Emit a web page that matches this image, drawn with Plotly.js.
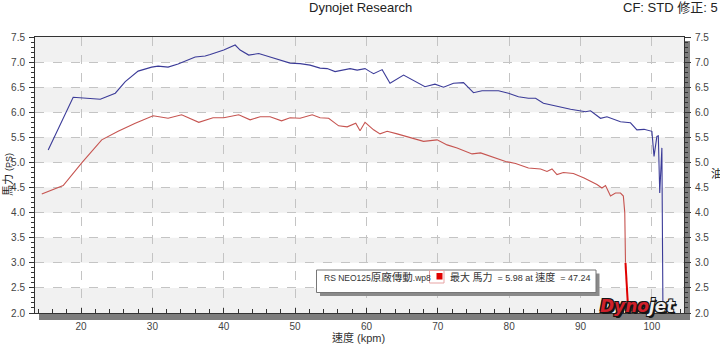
<!DOCTYPE html>
<html><head><meta charset="utf-8">
<script src="https://cdn.plot.ly/plotly-3.0.1.min.js"></script>
<style>html,body{margin:0;padding:0;background:#fff}#chart{width:720px;height:357px}</style>
</head><body><div id="chart"></div>
<script>
// ---- data ----
const speedBlue = [15.4, 18.9, 22.7, 24.8, 26.2, 28.0, 29.9, 30.8, 32.2, 33.6, 36.0, 37.4, 38.1, 40.0, 41.6, 42.3, 43.5, 44.9, 46.5, 47.9, 49.3, 50.7, 52.1, 53.5, 54.5, 55.6, 57.7, 58.7, 59.8, 60.5, 61.0, 62.2, 63.3, 65.2, 67.3, 68.2, 69.6, 70.8, 72.2, 73.6, 75.0, 76.2, 78.5, 79.9, 81.3, 82.7, 83.7, 84.8, 86.7, 88.6, 90.7, 91.4, 92.8, 93.7, 95.6, 97.0, 97.9, 98.9, 100.0, 100.3, 100.7, 100.9, 101.1, 101.4, 101.55];
const powerBlue = [5.25, 6.30, 6.26, 6.38, 6.61, 6.82, 6.90, 6.92, 6.90, 6.96, 7.10, 7.12, 7.15, 7.24, 7.34, 7.24, 7.14, 7.17, 7.10, 7.04, 6.98, 6.97, 6.94, 6.88, 6.87, 6.81, 6.87, 6.84, 6.87, 6.81, 6.77, 6.85, 6.58, 6.74, 6.59, 6.51, 6.56, 6.50, 6.58, 6.59, 6.39, 6.43, 6.43, 6.38, 6.31, 6.28, 6.28, 6.18, 6.12, 6.06, 6.01, 6.03, 5.88, 5.91, 5.81, 5.79, 5.65, 5.66, 5.62, 5.12, 5.52, 5.53, 4.39, 5.29, 2.0];
const speedRed = [14.5, 17.5, 20.1, 22.9, 25.2, 27.6, 30.1, 32.2, 34.1, 36.5, 38.5, 40.0, 42.1, 43.7, 45.1, 46.5, 48.1, 49.3, 50.7, 52.4, 53.5, 54.7, 56.1, 57.3, 58.5, 59.1, 59.8, 61.0, 61.9, 62.9, 64.3, 65.9, 68.0, 69.9, 71.3, 72.7, 74.8, 76.0, 77.6, 79.5, 80.9, 82.7, 84.4, 85.3, 86.0, 86.7, 87.6, 89.0, 90.5, 91.6, 92.3, 93.0, 93.5, 94.2, 94.9, 95.6, 96.0, 96.2, 96.3];
const powerRed = [4.37, 4.54, 4.99, 5.45, 5.62, 5.78, 5.93, 5.88, 5.95, 5.80, 5.89, 5.89, 5.95, 5.85, 5.91, 5.91, 5.83, 5.89, 5.88, 5.95, 5.89, 5.88, 5.73, 5.71, 5.78, 5.63, 5.80, 5.65, 5.57, 5.62, 5.57, 5.50, 5.42, 5.45, 5.35, 5.29, 5.17, 5.19, 5.11, 5.02, 4.98, 4.89, 4.87, 4.82, 4.87, 4.76, 4.80, 4.78, 4.69, 4.62, 4.56, 4.49, 4.54, 4.33, 4.39, 4.39, 4.33, 4.00, 3.00];
const speedRedDrop = [96.3, 96.45, 96.4, 96.55, 96.5, 96.7];
const powerRedDrop = [3.00, 2.65, 2.85, 2.30, 2.50, 2.00];
const yTicks = [2.0, 2.5, 3.0, 3.5, 4.0, 4.5, 5.0, 5.5, 6.0, 6.5, 7.0, 7.5];
const xTicks = [20, 30, 40, 50, 60, 70, 80, 90, 100];
const runName = ["RS NEO125", "原廠傳動", ".wp8"];
const maxPower = 5.98, maxPowerSpeed = 47.24;

// ---- layout helpers (pixel -> paper) ----
const W = 720, H = 357, L = 35, R = 36, T = 37, B = 44;
const PW = W - L - R, PH = H - T - B;
const px = v => (v - L) / PW;
const py = v => (H - B - v) / PH;
const FONT = 'Liberation Sans, "Noto Sans CJK TC", sans-serif';
const NB = '\u00a0';

const shapes = [];
// alternating bands
for (let i = 0; i < yTicks.length - 1; i += 2) {
  shapes.push({type:'rect', xref:'paper', yref:'y', x0:0, x1:1, y0:yTicks[i], y1:yTicks[i+1],
    fillcolor:'#f1f1f1', line:{width:0}, layer:'below'});
}
// plot shadows
shapes.push({type:'rect', xref:'paper', yref:'paper', x0:1, x1:px(690), y0:py(320), y1:py(41), fillcolor:'#7d7d7d', line:{width:0}, layer:'below'});
shapes.push({type:'rect', xref:'paper', yref:'paper', x0:px(39), x1:px(690), y0:py(320), y1:0, fillcolor:'#7d7d7d', line:{width:0}, layer:'below'});
// legend box
shapes.push({type:'rect', xref:'paper', yref:'paper', x0:px(320), x1:px(599.5), y0:py(296), y1:py(273.5), fillcolor:'#8a8a8a', line:{width:0}, layer:'above'});
shapes.push({type:'rect', xref:'paper', yref:'paper', x0:px(316.5), x1:px(596), y0:py(292.5), y1:py(270), fillcolor:'#ffffff', line:{width:1, color:'#777'}, layer:'above'});
shapes.push({type:'rect', xref:'paper', yref:'paper', x0:px(429.5), x1:px(444), y0:py(283), y1:py(270.5), fillcolor:'rgba(0,0,0,0)', line:{width:1, color:'#e7a3a3'}, layer:'above'});
shapes.push({type:'rect', xref:'paper', yref:'paper', x0:px(436.5), x1:px(442.5), y0:py(279.5), y1:py(273), fillcolor:'#e00000', line:{width:0}, layer:'above'});

const ann = (x, y, text, opts) => Object.assign({xref:'paper', yref:'paper', x:px(x), y:py(y), text:text,
  showarrow:false, xanchor:'left', yanchor:'middle', font:{family:FONT, size:10, color:'#333'}}, opts || {});
const cjk = s => '<span style="font-size:10px">' + s + '</span>';

const annotations = [
  ann(360, 8, 'Dynojet Research', {xanchor:'center', font:{family:FONT, size:13, color:'#222'}}),
  ann(720, 8, 'CF: STD 修正: 5', {xanchor:'right', font:{family:FONT, size:13, color:'#222'}}),
  ann(8, 175, '馬力 <span style="font-size:9px">(PS)</span>', {xanchor:'center', textangle:-90, font:{family:FONT, size:11, color:'#222'}}),
  ann(358, 337, '速度 (kpm)', {xanchor:'center', font:{family:FONT, size:11, color:'#333'}}),
  ann(709, 173, '油門', {font:{family:FONT, size:11, color:'#222'}}),
  ann(322, 276.5, runName[0] + '<span style="font-size:10.5px">' + runName[1] + '</span>' + runName[2], {font:{family:FONT, size:8.5, color:'#333'}}),
  ann(448, 276.5, cjk('最大') + ' ' + cjk('馬力') + NB + NB + '=' + NB + maxPower.toFixed(2) + NB + 'at' + NB + cjk('速度') + NB + NB + '=' + NB + maxPowerSpeed.toFixed(2),
      {font:{family:FONT, size:9, color:'#333'}}),
  ann(598, 305.5, '<b><i><span style="color:#d0202a">Dyno</span><span style="color:#f0f0f0">jet</span></i></b>',
      {font:{family:'DejaVu Sans, sans-serif', size:17, color:'#d0202a',
        shadow:'1px 1px 0 #151515, -1px -1px 0 #151515, 1px -1px 0 #151515, -1px 1px 0 #151515, 2px 2px 0 #151515'}})
];

const traces = [
  {x:speedBlue, y:powerBlue, type:'scatter', mode:'lines', line:{color:'#3b3b98', width:1.1}, hoverinfo:'skip'},
  {x:speedRed, y:powerRed, type:'scatter', mode:'lines', line:{color:'#c65450', width:1.1}, hoverinfo:'skip'},
  {x:speedRedDrop, y:powerRedDrop, type:'scatter', mode:'lines', line:{color:'#e00000', width:2}, hoverinfo:'skip'},
  {x:[xTicks[0]], y:[yTicks[0]], yaxis:'y2', type:'scatter', mode:'markers', marker:{opacity:0}, hoverinfo:'skip'}
];

const yCommon = {
  range:[yTicks[0], yTicks[yTicks.length-1]], tickvals:yTicks, ticktext:yTicks.map(v=>v.toFixed(1)),
  ticks:'outside', ticklen:5, tickwidth:1, tickcolor:'#333', showline:true, linecolor:'#333', linewidth:1,
  zeroline:false, tickfont:{family:FONT, size:10, color:'#444'},
  minor:{dtick:0.1, tick0:0, ticks:'outside', ticklen:3, tickcolor:'#333', showgrid:false}
};

const layout = {
  width:W, height:H, margin:{l:L, r:R, t:T, b:B}, paper_bgcolor:'#fff', plot_bgcolor:'#fff', showlegend:false,
  font:{family:FONT},
  xaxis:{range:[13.55, 104.5], tickvals:xTicks, ticks:'inside', ticklen:5, tickcolor:'#333', showline:true, linecolor:'#333',
    mirror:true, zeroline:false, showgrid:true, gridcolor:'#c4c4c4', griddash:'dash', gridwidth:1,
    tickfont:{family:FONT, size:10, color:'#444'}, ticklabelstandoff:4,
    minor:{dtick:2, tick0:0, ticks:'inside', ticklen:4, tickcolor:'#333', showgrid:false}},
  yaxis:Object.assign({}, yCommon, {mirror:true, showgrid:true, gridcolor:'#c4c4c4', griddash:'dash', ticklabelstandoff:2}),
  yaxis2:Object.assign({}, yCommon, {overlaying:'y', side:'right', showgrid:false, ticklen:6, ticklabelstandoff:2}),
  shapes:shapes, annotations:annotations
};

Plotly.newPlot('chart', traces, layout, {staticPlot:true, displayModeBar:false});
</script>
</body></html>
